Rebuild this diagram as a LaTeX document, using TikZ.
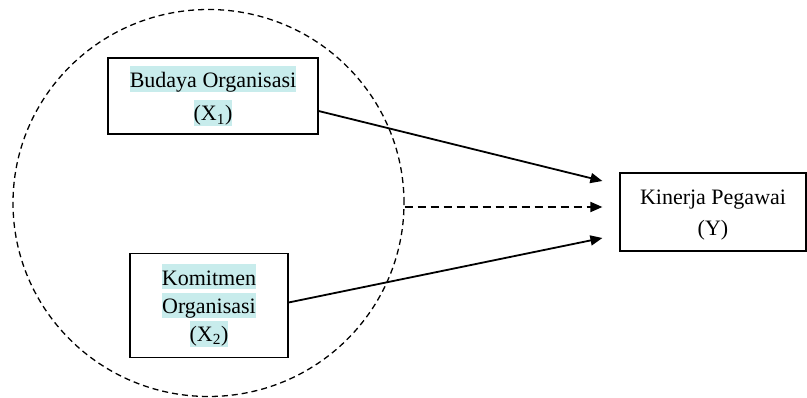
\documentclass[tikz,border=0pt]{standalone}
\usepackage{fontspec}
\setmainfont{Liberation Serif}
\usetikzlibrary{shapes.geometric,arrows.meta}
\definecolor{hlcol}{RGB}{200,236,236}
\newcommand{\hlt}[1]{{\setlength{\fboxsep}{0pt}\colorbox{hlcol}{\rule[-4pt]{0pt}{25pt}#1}}}
\newcommand{\plain}[1]{\rule[-4pt]{0pt}{25pt}#1}
\begin{document}
\begin{tikzpicture}[x=1pt,y=-1pt,
  box/.style={draw, line width=1.2pt, inner sep=0pt, align=center},
  arr/.style={line width=1.8pt, -{Triangle[length=12pt,width=10pt]}},
  darr/.style={arr, dash pattern=on 8pt off 5pt}]
\useasboundingbox (0,0) rectangle (807,398);
\node[draw, ellipse, line width=1.3pt, dash pattern=on 6pt off 4pt, minimum width=391pt, minimum height=387pt, inner sep=0pt] (circ) at (208.5,203) {};
\node[box, minimum width=210pt, minimum height=76pt, font=\fontsize{22}{33.5}\selectfont] (b1) at (213,96)
  {\hlt{Budaya Organisasi}\\\hlt{(X\textsubscript{1})}};
\node[box, minimum width=158pt, minimum height=104pt, font=\fontsize{22}{28.2}\selectfont] (b2) at (209,305.5)
  {\hlt{Komitmen}\\\hlt{Organisasi}\\\hlt{(X\textsubscript{2})}};
\node[box, minimum width=186pt, minimum height=78pt, font=\fontsize{22}{31}\selectfont] (y) at (713,212)
  {\plain{Kinerja Pegawai}\\\plain{(Y)}};
\coordinate (t1) at ([xshift=-17pt,yshift=31pt]y.west);
\coordinate (t2) at ([xshift=-17pt,yshift=5pt]y.west);
\coordinate (t3) at ([xshift=-17pt,yshift=-26pt]y.west);
\draw[arr] ([yshift=-15pt]b1.east) -- (t1);
\draw[darr] (circ.east |- t2) -- (t2);
\draw[arr] ([yshift=3pt]b2.east) -- (t3);
\end{tikzpicture}
\end{document}
